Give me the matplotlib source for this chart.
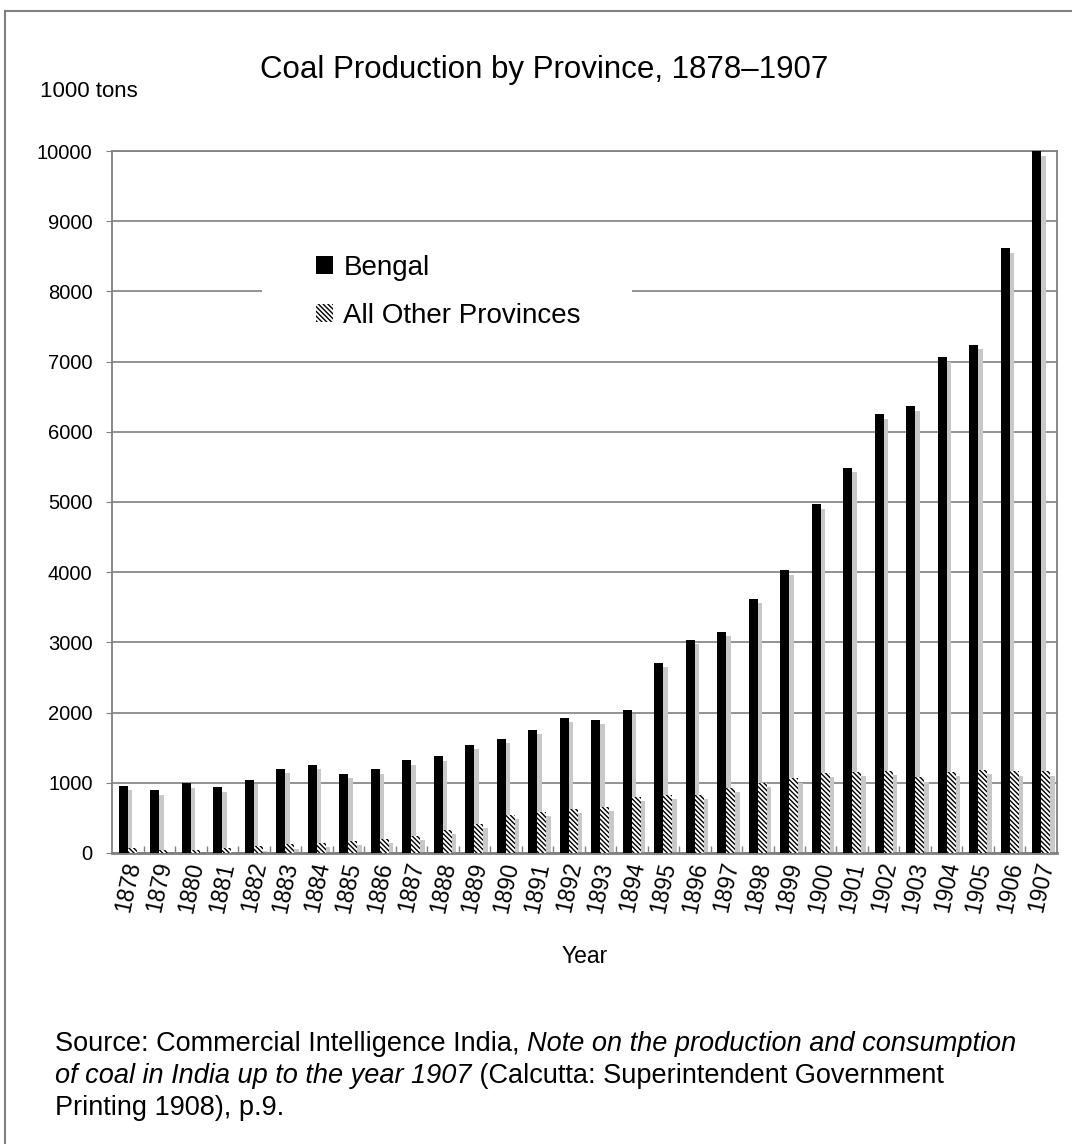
import matplotlib
matplotlib.use('Agg')
import matplotlib.pyplot as plt
import numpy as np
from matplotlib.patches import Patch, Rectangle
from matplotlib.lines import Line2D


# data (1000 tons)
years = list(range(1878, 1908))
bengal = [955, 890, 990, 933, 1040, 1197, 1255, 1125, 1192, 1320,
          1378, 1538, 1624, 1752, 1923, 1898, 2037, 2707, 3034, 3148,
          3618, 4030, 4970, 5488, 6252, 6365, 7063, 7243, 8618, 10000]
others = [67, 48, 38, 67, 95, 124, 148, 171, 205, 243,
          329, 413, 541, 584, 627, 655, 798, 826, 826, 926,
          997, 1065, 1143, 1156, 1169, 1076, 1156, 1183, 1163, 1163]
series_names = ['Bengal', 'All Other Provinces']

plt.rcParams['font.family'] = ['Liberation Sans', 'DejaVu Sans']
plt.rcParams['hatch.linewidth'] = 1.0

fig = plt.figure(figsize=(10.72, 11.44), dpi=100)
ax = fig.add_axes([0.1045, 0.2544, 0.8815, 0.6136])

x = np.arange(len(years))
w = 0.285          # bar width in category units
dx = 0.14          # shadow shift right
dy = 64            # shadow shift down (data units)
shadow = '#c8c8c8'
hatch = '\\' * 7

b = np.array(bengal)
o = np.array(others)

# drop shadows first
ax.bar(x - w / 2 + dx, np.clip(b - dy, 0, None), w, color=shadow, zorder=2)
ax.bar(x + w / 2 + dx, np.clip(o - dy, 0, None), w, color=shadow, zorder=2)

# the bars
ax.bar(x - w / 2, b, w, color='black', zorder=3)
ax.bar(x + w / 2, o, w, facecolor='white', edgecolor='black',
       linewidth=0, hatch=hatch, zorder=3)

ax.set_xlim(-0.5, len(years) - 0.5)
ax.set_ylim(0, 10000)
ax.set_yticks(range(0, 10001, 1000))
ax.tick_params(axis='y', labelsize=14.5, length=4, color='#808080', pad=10)
ax.yaxis.grid(True, color='#808080', linewidth=1.2)
ax.set_axisbelow(True)

ax.set_xticks(x)
ax.set_xticklabels([str(y) for y in years], rotation=78, fontsize=16.5)
ax.tick_params(axis='x', length=0, pad=5)
ax.set_xticks(x[:-1] + 0.5, minor=True)
ax.tick_params(axis='x', which='minor', direction='in', length=5,
               color='#808080', width=1)

for s in ax.spines.values():
    s.set_color('#808080')
    s.set_linewidth(1.3)
ax.spines['bottom'].set_linewidth(2)

ax.set_xlabel('Year', fontsize=16.5, labelpad=22)

# legend on a white patch hiding the gridline behind it
ax.add_patch(Rectangle((0.159, 0.724), 0.391, 0.156, transform=ax.transAxes,
                       facecolor='white', edgecolor='none', zorder=4))
handles = [Patch(facecolor='black', edgecolor='none'),
           Patch(facecolor='white', edgecolor='black', linewidth=0, hatch=hatch)]
leg = ax.legend(handles, series_names, loc='upper left',
                bbox_to_anchor=(0.216, 0.852), frameon=False, fontsize=20,
                handlelength=0.62, handleheight=0.62, handletextpad=0.36,
                labelspacing=0.79, borderpad=0, borderaxespad=0)
leg.set_zorder(5)

fig.text(0.508, 0.939, 'Coal Production by Province, 1878\u20131907',
         ha='center', va='center', fontsize=22.5)
fig.text(0.037, 0.920, '1000 tons', ha='left', va='center', fontsize=16)

# outer frame of the picture
fig.add_artist(Line2D([5 / 1072, 5 / 1072], [0, 1 - 11 / 1144],
                      transform=fig.transFigure, color='#808080', linewidth=1.5))
fig.add_artist(Line2D([5 / 1072, 1], [1 - 11 / 1144, 1 - 11 / 1144],
                      transform=fig.transFigure, color='#808080', linewidth=1.5))

# source note, mixed upright / italic pieces
src_lines = [
    [('Source: Commercial Intelligence India, ', 'normal'),
     ('Note on the production and consumption', 'italic')],
    [('of coal in India up to the year 1907', 'italic'),
     (' (Calcutta: Superintendent Government', 'normal')],
    [('Printing 1908), p.9.', 'normal')],
]
fig.canvas.draw()
r = fig.canvas.get_renderer()
y0 = 1 - 1051 / 1144
for i, line in enumerate(src_lines):
    xx = 55 / 1072
    yy = y0 - i * 32 / 1144
    for txt, st in line:
        t = fig.text(xx, yy, txt, ha='left', va='baseline', fontsize=19.5,
                     style=st)
        bb = t.get_window_extent(r)
        xx = bb.x1 / fig.bbox.width

fig.savefig('out.png', dpi=100)
